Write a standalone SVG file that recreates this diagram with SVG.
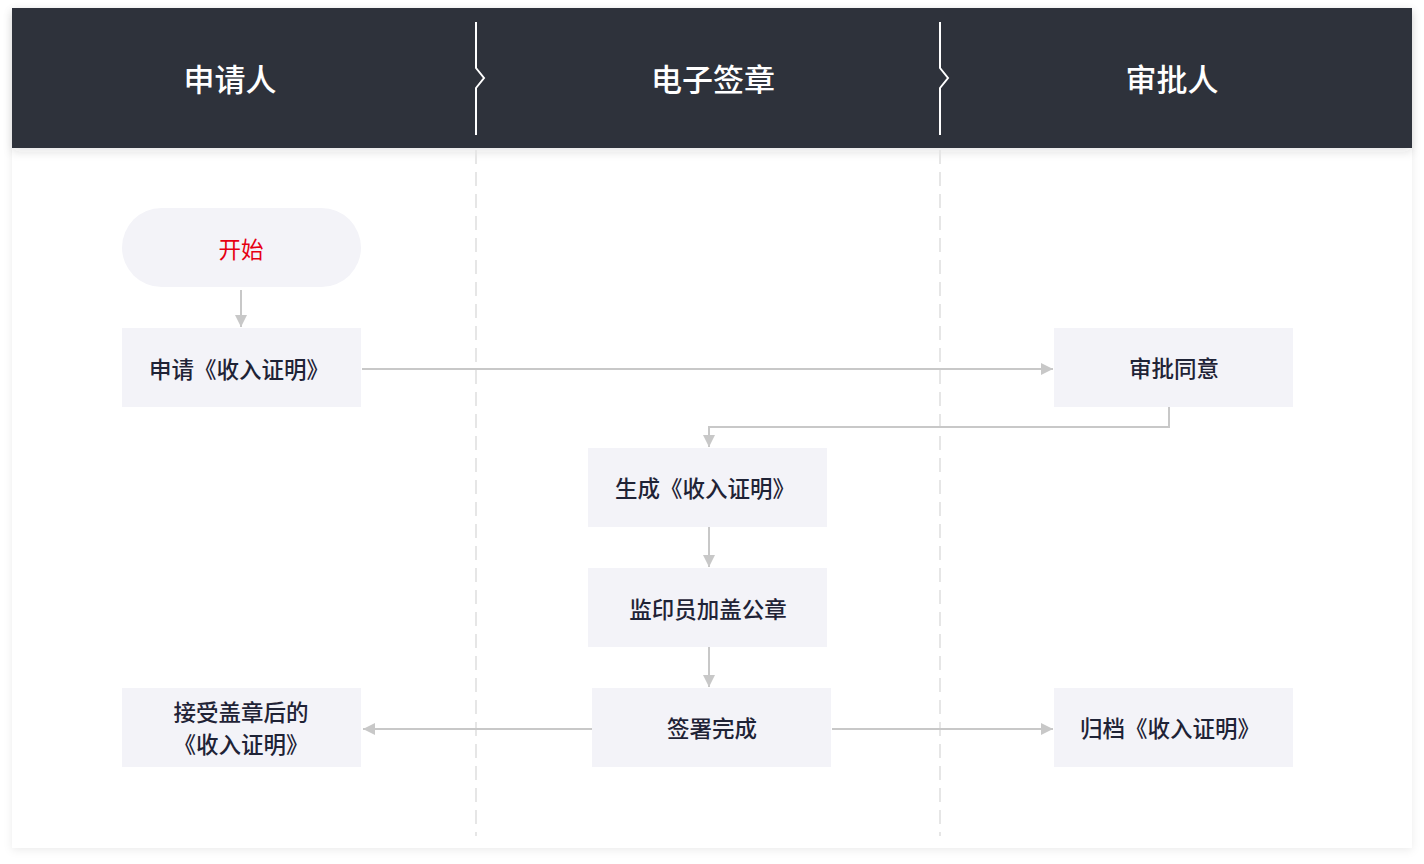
<svg xmlns="http://www.w3.org/2000/svg" width="1424" height="864" viewBox="0 0 1424 864">
<defs>
<style>
.node{fill:#f3f3f8}
.t{font-family:"Noto Sans CJK SC","Noto Sans",sans-serif;font-size:22.5px;font-weight:500;fill:#1f2336;text-anchor:middle;dominant-baseline:central}
.h{font-family:"Noto Sans CJK SC","Noto Sans",sans-serif;font-size:31px;font-weight:500;fill:#ffffff;text-anchor:middle;dominant-baseline:central}
.c{fill:none;stroke:#c8c8c8;stroke-width:2}
.lane{stroke:#e6e6e6;stroke-width:2;stroke-dasharray:14 8}
.sep{fill:none;stroke:#ffffff;stroke-width:2}
</style>
<marker id="arr" viewBox="0 0 10 10" refX="10" refY="5" markerWidth="6" markerHeight="6" markerUnits="strokeWidth" orient="auto">
<path d="M0,0 L10,5 L0,10 Z" fill="#c8c8c8"/>
</marker>
<filter id="sh" x="-5%" y="-5%" width="110%" height="110%">
<feDropShadow dx="0" dy="2" stdDeviation="4" flood-color="#000000" flood-opacity="0.08"/>
</filter>
<filter id="hs" x="-5%" y="-20%" width="110%" height="140%">
<feDropShadow dx="0" dy="4" stdDeviation="5" flood-color="#2e313b" flood-opacity="0.12"/>
</filter>
</defs>
<rect width="1424" height="864" fill="#ffffff"/>
<rect x="12" y="8" width="1400" height="840" fill="#ffffff" filter="url(#sh)"/>
<g id="header">
<rect x="12" y="8" width="1400" height="140" fill="#2e313b" filter="url(#hs)"/>
<path class="sep" d="M476,22 V68 L484,78 L476,88 V135"/>
<path class="sep" d="M940,22 V68 L948,78 L940,88 V135"/>
<text class="h" x="230" y="77">申请人</text>
<text class="h" x="713" y="77">电子签章</text>
<text class="h" x="1172" y="77">审批人</text>
</g>
<g id="lanes">
<line class="lane" x1="476" y1="150" x2="476" y2="836"/>
<line class="lane" x1="940" y1="150" x2="940" y2="836"/>
</g>
<g id="connectors">
<path class="c" d="M241,290 V327" marker-end="url(#arr)"/>
<path class="c" d="M362,369 H1053" marker-end="url(#arr)"/>
<path class="c" d="M1169,407 V427 H709 V447" marker-end="url(#arr)"/>
<path class="c" d="M709,527 V567" marker-end="url(#arr)"/>
<path class="c" d="M709,647 V687" marker-end="url(#arr)"/>
<path class="c" d="M592,729 H363" marker-end="url(#arr)"/>
<path class="c" d="M832,729 H1053" marker-end="url(#arr)"/>
</g>
<g id="start">
<rect class="node" x="122" y="208" width="239" height="79" rx="39.5"/>
<text class="t" x="241" y="248" style="fill:#e60012;font-weight:400">开始</text>
</g>
<g id="apply">
<rect class="node" x="122" y="328" width="239" height="79"/>
<text class="t" x="239" y="368">申请《收入证明》</text>
</g>
<g id="approve">
<rect class="node" x="1054" y="328" width="239" height="79"/>
<text class="t" x="1174" y="367">审批同意</text>
</g>
<g id="generate">
<rect class="node" x="588" y="448" width="239" height="79"/>
<text class="t" x="705" y="487">生成《收入证明》</text>
</g>
<g id="stamp">
<rect class="node" x="588" y="568" width="239" height="79"/>
<text class="t" x="708" y="608">监印员加盖公章</text>
</g>
<g id="signed">
<rect class="node" x="592" y="688" width="239" height="79"/>
<text class="t" x="712" y="727">签署完成</text>
</g>
<g id="receive">
<rect class="node" x="122" y="688" width="239" height="79"/>
<text class="t" x="241" y="711">接受盖章后的</text>
<text class="t" x="241" y="743">《收入证明》</text>
</g>
<g id="archive">
<rect class="node" x="1054" y="688" width="239" height="79"/>
<text class="t" x="1170" y="727">归档《收入证明》</text>
</g>
</svg>
